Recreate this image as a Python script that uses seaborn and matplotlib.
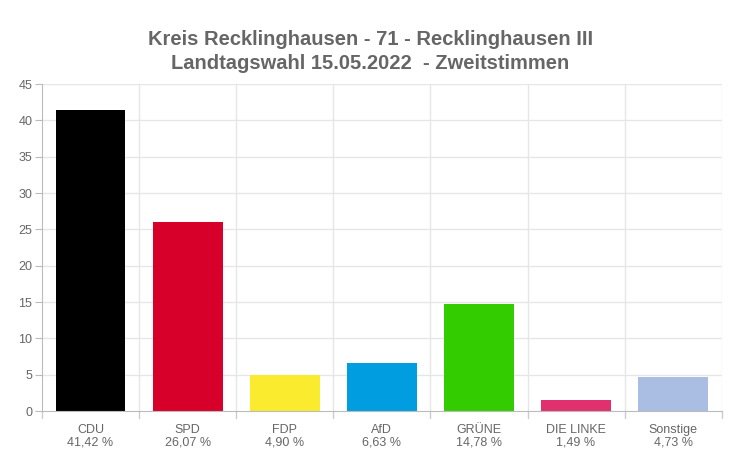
#!/usr/bin/env python3
"""Landtagswahl 2022 - Zweitstimmen, Recklinghausen III (bar chart)."""
import matplotlib
matplotlib.use("Agg")
import matplotlib.pyplot as plt
import pandas as pd
import seaborn as sns

parties = ["CDU", "SPD", "FDP", "AfD", "GRÜNE", "DIE LINKE", "Sonstige"]
shares = [41.42, 26.07, 4.90, 6.63, 14.78, 1.49, 4.73]
colors = ["#000000", "#d7002a", "#fbeb2e", "#009ee0", "#33cc00", "#e0306e", "#aabde3"]
yticks = [0, 5, 10, 15, 20, 25, 30, 35, 40, 45]

df = pd.DataFrame({"party": parties, "share": shares})
labels = [f"{p}\n{s:.2f} %".replace(".", ",") for p, s in zip(parties, shares)]

sns.set_style("white")
plt.rcParams["font.family"] = ["Liberation Sans", "DejaVu Sans"]

fig = plt.figure(figsize=(7.29, 4.55), dpi=100)
ax = fig.add_axes([0.0576, 0.0967, 0.9324, 0.7183])

sns.barplot(data=df, x="party", y="share", hue="party", palette=colors,
            width=0.72, saturation=1, legend=False, linewidth=0, ax=ax)

ax.set_ylim(0, 45)
ax.set_xlim(-0.5, len(parties) - 0.5)
ax.set_yticks(yticks)
ax.set_xticks(range(len(parties)))
ax.set_xticklabels(labels, linespacing=1.1)
ax.set_xlabel("")
ax.set_ylabel("")

# grid: horizontal at y ticks, vertical at category boundaries
grid_c = "#e6e6e6"
for y in yticks[1:]:
    ax.axhline(y, color=grid_c, lw=1, zorder=0)
for k in range(1, len(parties) + 1):
    ax.axvline(k - 0.5, color=grid_c, lw=1, zorder=0)
for k in range(len(parties) + 1):
    ax.plot([k - 0.5, k - 0.5], [0, -0.02], transform=ax.get_xaxis_transform(),
            color="#cccccc", lw=1, clip_on=False)

for side in ["top", "right"]:
    ax.spines[side].set_visible(False)
ax.spines["left"].set_color("#bbbbbb")
ax.spines["bottom"].set_color("#bbbbbb")
ax.tick_params(axis="y", length=5, color="#bbbbbb", labelsize=9, labelcolor="#666666", pad=2,
               left=True)
ax.tick_params(axis="x", length=0, labelsize=9, labelcolor="#666666", pad=9)

fig.text(0.508, 0.913, "Kreis Recklinghausen - 71 - Recklinghausen III", ha="center",
         va="center", fontsize=14.5, fontweight="bold", color="#666666")
fig.text(0.508, 0.860, "Landtagswahl 15.05.2022  - Zweitstimmen", ha="center",
         va="center", fontsize=14.5, fontweight="bold", color="#666666")

fig.savefig("out.png", dpi=100, facecolor="white")
